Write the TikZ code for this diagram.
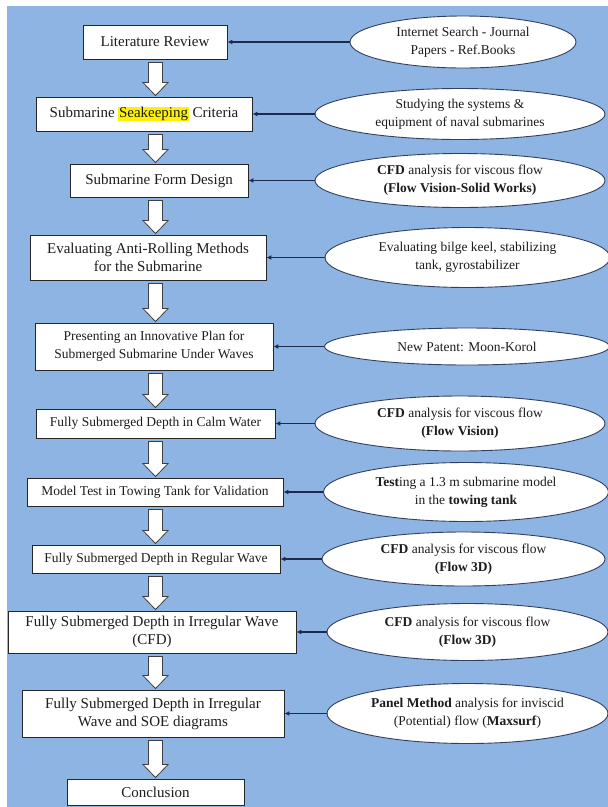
\documentclass[tikz,border=0pt]{standalone}
\usepackage{fontspec}
\setmainfont{Liberation Serif}
\usetikzlibrary{shapes.geometric,arrows.meta,calc}
\definecolor{bgblue}{RGB}{141,180,226}
\definecolor{navy}{RGB}{28,42,78}
\definecolor{txt}{RGB}{28,28,28}
\tikzset{
  box/.style={draw=black!85, line width=0.9pt, fill=white, inner sep=0pt,
    align=center, text=txt, font=\fontsize{15}{18}\selectfont},
  smallbox/.style={box, font=\fontsize{13.5}{18}\selectfont},
  oval/.style={ellipse, draw=navy!90, line width=0.9pt, fill=white, inner sep=0pt,
    align=center, text=txt, font=\fontsize{13.5}{18}\selectfont},
  feed/.style={draw=navy, line width=1.1pt, -{Latex[length=5pt,width=5pt]}},
  hollow/.style={draw=black!75, line width=0.8pt, fill=white, line join=miter},
}
\newcommand\flowarrow[2]{%
  \draw[hollow] let \p1=(#1.south), \p2=(#2.north) in
    ({148.5pt},{\y1-3pt}) -- ({162.5pt},{\y1-3pt}) -- ({162.5pt},{\y2+14pt})
    -- ({168pt},{\y2+14pt}) -- ({155.5pt},{\y2+1pt}) -- ({143pt},{\y2+14pt})
    -- ({148.5pt},{\y2+14pt}) -- cycle;}
\begin{document}
\begin{tikzpicture}[x=1pt,y=-1pt]
\useasboundingbox (0,0) rectangle (608,807);
\fill[bgblue] (7,6) rectangle (608,807);

% process boxes
\node[box, minimum width=144pt, minimum height=34pt] (b1) at (155,42) {Literature Review};
\node[box, minimum width=216pt, minimum height=34pt] (b2) at (144,114)
  {Submarine {\fboxsep=0.6pt\colorbox{yellow}{Seakeeping}} Criteria};
\node[box, minimum width=178pt, minimum height=33pt] (b3) at (159,180.5) {Submarine Form Design};
\node[box, minimum width=236pt, minimum height=45pt] (b4) at (148,257.5)
  {Evaluating Anti-Rolling Methods\\for the Submarine};
\node[smallbox, minimum width=238pt, minimum height=47pt] (b5) at (154,346.5)
  {Presenting an Innovative Plan for\\Submerged Submarine Under Waves};
\node[smallbox, minimum width=239pt, minimum height=29pt] (b6) at (155.5,423.5)
  {Fully Submerged Depth in Calm Water};
\node[smallbox, minimum width=256pt, minimum height=28pt] (b7) at (155,492)
  {Model Test in Towing Tank for Validation};
\node[smallbox, minimum width=248pt, minimum height=28pt] (b8) at (156,559)
  {Fully Submerged Depth in Regular Wave};
\node[box, minimum width=288pt, minimum height=42pt] (b9) at (152,632)
  {Fully Submerged Depth in Irregular Wave\\(CFD)};
\node[box, minimum width=262pt, minimum height=47pt] (b10) at (153,713.5)
  {Fully Submerged Depth in Irregular\\Wave and SOE diagrams};
\node[box, minimum width=177pt, minimum height=26pt] (b11) at (155.5,792) {Conclusion};

% input ellipses
\node[oval, minimum width=226pt, minimum height=52pt] (e1) at (463,42)
  {Internet Search - Journal\\Papers - Ref.Books};
\node[oval, minimum width=290pt, minimum height=51pt] (e2) at (460,114)
  {Studying the systems \&\\equipment of naval submarines};
\node[oval, minimum width=290pt, minimum height=54pt] (e3) at (460,180.5)
  {\textbf{CFD} analysis for viscous flow\\\textbf{(Flow Vision-Solid Works)}};
\node[oval, minimum width=285pt, minimum height=60pt] (e4) at (467.5,257.5)
  {Evaluating bilge keel, stabilizing\\tank, gyrostabilizer};
\node[oval, minimum width=285pt, minimum height=37pt] (e5) at (467,346.5)
  {New Patent: Moon-Korol};
\node[oval, minimum width=290pt, minimum height=55pt] (e6) at (460,423.5)
  {\textbf{CFD} analysis for viscous flow\\\textbf{(Flow Vision)}};
\node[oval, minimum width=285pt, minimum height=59pt] (e7) at (466,492)
  {\textbf{Test}ing a 1.3 m submarine model\\in the \textbf{towing tank}};
\node[oval, minimum width=283pt, minimum height=54pt] (e8) at (463.5,559)
  {\textbf{CFD} analysis for viscous flow\\\textbf{(Flow 3D)}};
\node[oval, minimum width=281pt, minimum height=57pt] (e9) at (467.5,632)
  {\textbf{CFD} analysis for viscous flow\\\textbf{(Flow 3D)}};
\node[oval, minimum width=281pt, minimum height=60pt] (e10) at (467.5,713.5)
  {\textbf{Panel Method} analysis for inviscid\\(Potential) flow (\textbf{Maxsurf})};

% feeding connectors
\foreach \i in {1,...,10}{\draw[feed] (e\i.west) -- (b\i.east);}

% flow arrows
\flowarrow{b1}{b2}
\flowarrow{b2}{b3}
\flowarrow{b3}{b4}
\flowarrow{b4}{b5}
\flowarrow{b5}{b6}
\flowarrow{b6}{b7}
\flowarrow{b7}{b8}
\flowarrow{b8}{b9}
\flowarrow{b9}{b10}
\flowarrow{b10}{b11}
\end{tikzpicture}
\end{document}
